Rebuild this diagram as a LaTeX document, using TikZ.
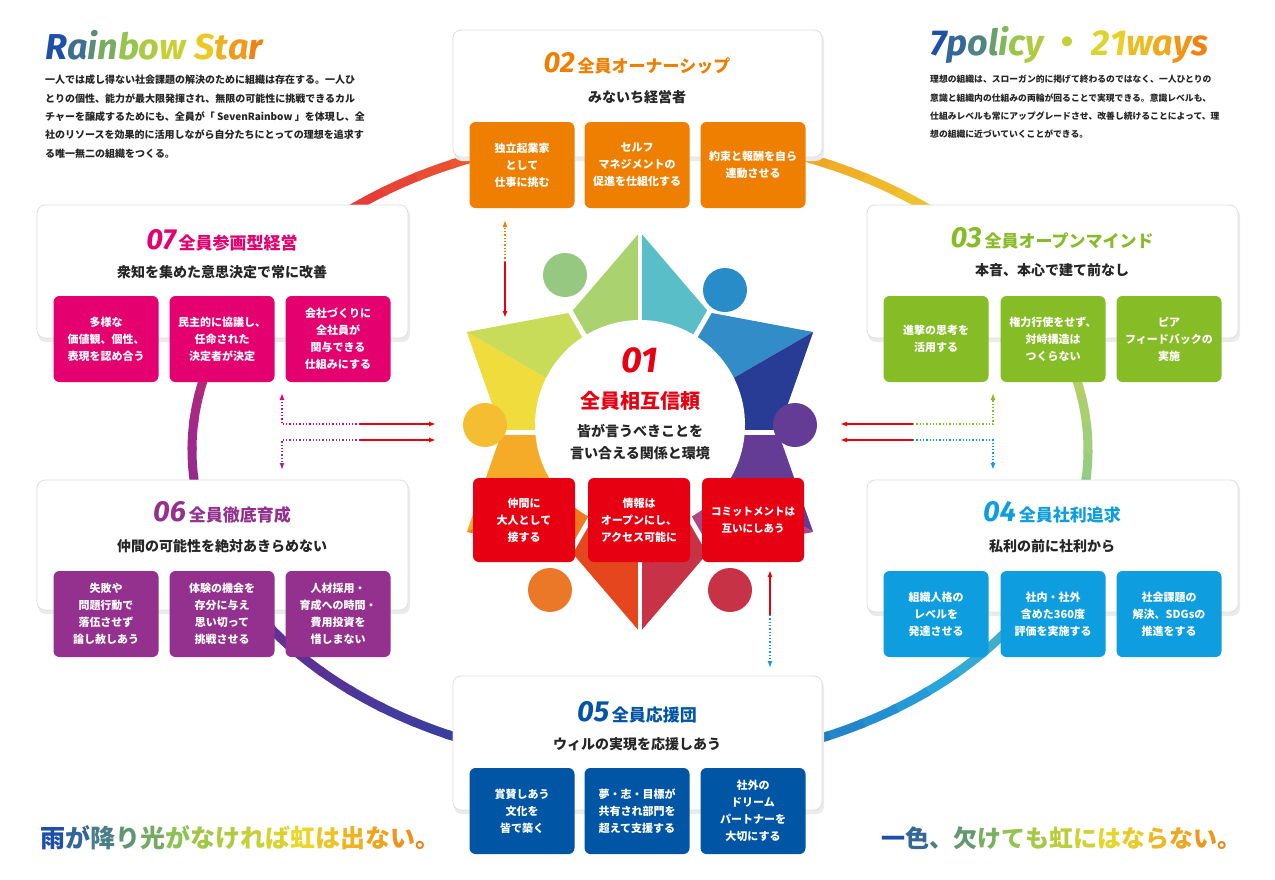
\documentclass[tikz,border=0pt]{standalone}
\usepackage{fontspec}
\usetikzlibrary{arrows.meta,calc}
\setmainfont{Noto Sans CJK JP}
\newfontfamily\jp{Noto Sans CJK JP}
\newfontfamily\numf{Fira Sans}
\definecolor{cOr}{RGB}{238,127,0}
\definecolor{cMa}{RGB}{228,0,111}
\definecolor{cGr}{RGB}{134,188,37}
\definecolor{cPu}{RGB}{148,48,141}
\definecolor{cLb}{RGB}{14,158,224}
\definecolor{cBl}{RGB}{0,85,165}
\definecolor{cRe}{RGB}{230,0,18}
\definecolor{rs0}{RGB}{150,205,130}
\definecolor{rs1}{RGB}{40,165,220}
\definecolor{rs2}{RGB}{25,75,170}
\definecolor{rs3}{RGB}{90,50,150}
\definecolor{rs4}{RGB}{160,40,140}
\definecolor{rs5}{RGB}{230,50,60}
\definecolor{rs6}{RGB}{240,130,30}
\definecolor{rs7}{RGB}{240,210,50}
\definecolor{rs8}{RGB}{150,205,130}
\definecolor{tb0}{RGB}{30,80,170}
\definecolor{tb1}{RGB}{140,195,80}
\definecolor{tb2}{RGB}{235,215,40}
\definecolor{tb3}{RGB}{240,130,20}
\newcommand\rbset[1]{\ifnum#1<34 \pgfmathtruncatemacro\rbp{100-#1*3}\colorlet{rbcur}{tb0!\rbp!tb1}\else\ifnum#1<67 \pgfmathtruncatemacro\rbp{100-(#1-33)*3}\colorlet{rbcur}{tb1!\rbp!tb2}\else\pgfmathtruncatemacro\rbp{max(0,100-(#1-66)*3)}\colorlet{rbcur}{tb2!\rbp!tb3}\fi\fi}
\newcommand\rbtext[2]{\foreach \ch [count=\i] in {#2}{\pgfmathtruncatemacro\rbt{100*(\i-1)/(#1-1)}\rbset{\rbt}\textcolor{rbcur}{\ch}}}
\tikzset{
  panel/.style={rounded corners=8pt,fill=white,draw=black!13,line width=0.8pt},
  pshadow/.style={rounded corners=8pt,fill=black!8},
  sbox/.style={rounded corners=6pt,text=white,font=\jp\bfseries\fontsize{11}{17}\selectfont,align=center,minimum width=105pt,minimum height=86pt,inner sep=0pt},
  ptitle/.style={font=\jp\bfseries\fontsize{17}{20}\selectfont},
  psub/.style={font=\jp\bfseries\fontsize{14}{16}\selectfont,text=black!85},
  desc/.style={font=\jp\bfseries\fontsize{10}{18.3}\selectfont,align=left,anchor=north west,inner sep=0pt,text=black!85},
  arr/.style={-{Latex[length=7pt,width=5pt]},line width=1.6pt},
  darr/.style={-{Latex[length=7pt,width=5pt]},line width=1.3pt,dotted},
  sln/.style={line width=1.6pt,cRe}
}
\newcommand\pnum[2]{{\numf\bfseries\itshape\fontsize{29}{29}\selectfont\textcolor{#1}{#2}}}
\begin{document}
\begin{tikzpicture}[x=1pt,y=-1pt]
\useasboundingbox (0,0) rectangle (1275,879);
\fill[white] (0,0) rectangle (1275,879);
% ring
\foreach \k in {0,...,71}{
  \pgfmathtruncatemacro\sidx{floor(\k/9)}
  \pgfmathtruncatemacro\snext{\sidx+1}
  \pgfmathtruncatemacro\pp{100-100*mod(\k,9)/9}
  \colorlet{segc}{rs\sidx!\pp!rs\snext}
  \draw[segc,line width=9pt] (640,450) ++(\k*5:448 and 315) arc[start angle=\k*5, delta angle=5.6, x radius=448, y radius=315];
}
% star
\coordinate (sc) at (640,432);
\foreach \th/\ca/\cb in {-90/{170,210,110}/{90,190,200},-30/{50,140,200}/{40,60,150},30/{100,60,150}/{170,70,130},90/{200,50,70}/{230,70,30},150/{240,120,30}/{245,170,40},210/{240,220,60}/{200,220,90}}{
  \definecolor{ha}{RGB}{\ca}\definecolor{hb}{RGB}{\cb}
  \pgfmathsetmacro\thm{\th-30}\pgfmathsetmacro\thp{\th+30}
  \fill[ha] (sc) -- ($(sc)+(\thm:138)$) -- ($(sc)+(\th:200)$) -- cycle;
  \fill[hb] (sc) -- ($(sc)+(\thp:138)$) -- ($(sc)+(\th:200)$) -- cycle;
}
\foreach \a in {-120,-60,0,60,120,180}{\draw[white,line width=5pt] (sc) -- ($(sc)+(\a:142)$);}
\draw[white,line width=4pt] (sc) -- ($(sc)+(-90:202)$);
\draw[white,line width=4pt] (sc) -- ($(sc)+(90:202)$);
\foreach \hx/\hy/\hc in {565/275/{150,200,130},725/290/{40,140,200},485/425/{245,190,50},795/425/{100,60,150},550/590/{235,120,40},730/590/{200,50,70}}{
  \definecolor{hh}{RGB}{\hc}\fill[hh] (\hx,\hy) circle (22);
}
\fill[white] (640,425) circle (105);
\node (n01) at (640,360) {{\numf\bfseries\itshape\fontsize{36}{36}\selectfont\textcolor{cRe}{01}}};
\node[font=\jp\bfseries\fontsize{20}{22}\selectfont,text=cRe] (t01) at (640,401) {全員相互信頼};
\node[font=\jp\bfseries\fontsize{14}{22}\selectfont,align=center,text=black!85] (s01) at (640,442) {皆が言うべきことを\\言い合える関係と環境};
\node[sbox,fill=cRe,minimum width=102pt,minimum height=84pt] (b011) at (524,520) {仲間に\\大人として\\接する};
\node[sbox,fill=cRe,minimum width=102pt,minimum height=84pt] (b012) at (639,520) {情報は\\オープンにし、\\アクセス可能に};
\node[sbox,fill=cRe,minimum width=102pt,minimum height=84pt,font=\jp\bfseries\fontsize{10.5}{17}\selectfont] (b013) at (753,520) {コミットメントは\\互いにしあう};
% panels
\foreach \x/\y/\X/\Y in {453/30/822/157,37/205/408/338,867/205/1238/338,37/480/408/610,867/480/1238/612,453/676/822/810}{
  \fill[pshadow] (\x+1,\y+3) rectangle (\X+2,\Y+4);
  \draw[panel] (\x,\y) rectangle (\X,\Y);
}
% 02
\node[ptitle] (t02) at (637,63) {\pnum{cOr}{02}\,\textcolor{cOr}{全員オーナーシップ}};
\node[psub] (s02) at (637,97) {みないち経営者};
\node[sbox,fill=cOr] (b021) at (522,165) {独立起業家\\として\\仕事に挑む};
\node[sbox,fill=cOr] (b022) at (637,165) {セルフ\\マネジメントの\\促進を仕組化する};
\node[sbox,fill=cOr] (b023) at (753,165) {約束と報酬を自ら\\連動させる};
% 07
\node[ptitle] (t07) at (222,240) {\pnum{cMa}{07}\,\textcolor{cMa}{全員参画型経営}};
\node[psub] (s07) at (222,272) {衆知を集めた意思決定で常に改善};
\node[sbox,fill=cMa] (b071) at (106,339) {多様な\\価値観、個性、\\表現を認め合う};
\node[sbox,fill=cMa] (b072) at (222,339) {民主的に協議し、\\任命された\\決定者が決定};
\node[sbox,fill=cMa] (b073) at (338,339) {会社づくりに\\全社員が\\関与できる\\仕組みにする};
% 03
\node[ptitle] (t03) at (1052,238) {\pnum{cGr}{03}\,\textcolor{cGr}{全員オープンマインド}};
\node[psub] (s03) at (1052,270) {本音、本心で建て前なし};
\node[sbox,fill=cGr] (b031) at (936,339) {進撃の思考を\\活用する};
\node[sbox,fill=cGr] (b032) at (1053,339) {権力行使をせず、\\対峙構造は\\つくらない};
\node[sbox,fill=cGr] (b033) at (1169,339) {ピア\\フィードバックの\\実施};
% 06
\node[ptitle] (t06) at (222,512) {\pnum{cPu}{06}\,\textcolor{cPu}{全員徹底育成}};
\node[psub] (s06) at (222,546) {仲間の可能性を絶対あきらめない};
\node[sbox,fill=cPu] (b061) at (106,614) {失敗や\\問題行動で\\落伍させず\\論し赦しあう};
\node[sbox,fill=cPu] (b062) at (222,614) {体験の機会を\\存分に与え\\思い切って\\挑戦させる};
\node[sbox,fill=cPu] (b063) at (338,614) {人材採用・\\育成への時間・\\費用投資を\\惜しまない};
% 04
\node[ptitle] (t04) at (1052,512) {\pnum{cLb}{04}\,\textcolor{cLb}{全員社利追求}};
\node[psub] (s04) at (1052,546) {私利の前に社利から};
\node[sbox,fill=cLb] (b041) at (936,614) {組織人格の\\レベルを\\発達させる};
\node[sbox,fill=cLb] (b042) at (1053,614) {社内・社外\\含めた360度\\評価を実施する};
\node[sbox,fill=cLb] (b043) at (1169,614) {社会課題の\\解決、SDGsの\\推進をする};
% 05
\node[ptitle] (t05) at (637,712) {\pnum{cBl}{05}\,\textcolor{cBl}{全員応援団}};
\node[psub] (s05) at (637,744) {ウィルの実現を応援しあう};
\node[sbox,fill=cBl] (b051) at (522,811) {賞賛しあう\\文化を\\皆で築く};
\node[sbox,fill=cBl] (b052) at (637,811) {夢・志・目標が\\共有され部門を\\超えて支援する};
\node[sbox,fill=cBl] (b053) at (753,811) {社外の\\ドリーム\\パートナーを\\大切にする};
% arrows vertical
\coordinate (v1a) at (505,220); \coordinate (v1m) at (505,262); \coordinate (v1b) at (505,318);
\draw[darr,cOr] (v1m) -- (v1a);
\draw[arr,cRe] (v1m) -- (v1b);
\coordinate (v2a) at (770,570); \coordinate (v2m) at (770,615); \coordinate (v2b) at (770,668);
\draw[arr,cRe] (v2m) -- (v2a);
\draw[darr,cLb] (v2m) -- (v2b);
% left arrows
\coordinate (la1) at (282,424); \coordinate (lm1) at (360,424); \coordinate (le1) at (436,424); \coordinate (lu) at (282,393);
\coordinate (la2) at (282,440); \coordinate (lm2) at (360,440); \coordinate (le2) at (436,440); \coordinate (ld) at (282,470);
\draw[darr,cMa] (lm1) -- (la1) -- (lu);
\draw[arr,cRe] (lm1) -- (le1);
\draw[darr,cPu] (lm2) -- (la2) -- (ld);
\draw[arr,cRe] (lm2) -- (le2);
% right arrows
\coordinate (ra1) at (993,424); \coordinate (rm1) at (913,424); \coordinate (re1) at (840,424); \coordinate (ru) at (993,393);
\coordinate (ra2) at (993,440); \coordinate (rm2) at (913,440); \coordinate (re2) at (840,440); \coordinate (rd) at (993,470);
\draw[darr,cGr] (rm1) -- (ra1) -- (ru);
\draw[arr,cRe] (rm1) -- (re1);
\draw[darr,cLb] (rm2) -- (ra2) -- (rd);
\draw[arr,cRe] (rm2) -- (re2);
% headings
\node[anchor=west,inner sep=0pt,font=\numf\bfseries\itshape\fontsize{36}{36}\selectfont] (hl) at (45,45) {\rbtext{12}{R,a,i,n,b,o,w,~,S,t,a,r}};
\node[anchor=west,inner sep=0pt,font=\numf\bfseries\itshape\fontsize{36}{36}\selectfont] (hr) at (930,45) {\rbtext{14}{7,p,o,l,i,c,y,{\jp\,・\,},2,1,w,a,y,s}};
\node[desc] (dl) at (45,75) {一人では成し得ない社会課題の解決のために組織は存在する。一人ひ\\とりの個性、能力が最大限発揮され、無限の可能性に挑戦できるカル\\チャーを醸成するためにも、全員が「 SevenRainbow 」を体現し、全\\社のリソースを効果的に活用しながら自分たちにとっての理想を追求す\\る唯一無二の組織をつくる。};
\node[desc,font=\jp\bfseries\fontsize{8.8}{18.3}\selectfont] (dr) at (930,75) {理想の組織は、スローガン的に掲げて終わるのではなく、一人ひとりの\\意識と組織内の仕組みの両輪が回ることで実現できる。意識レベルも、\\仕組みレベルも常にアップグレードさせ、改善し続けることによって、理\\想の組織に近づいていくことができる。};
\node[anchor=west,inner sep=0pt,font=\jp\bfseries\fontsize{25}{26}\selectfont] (bl) at (40,838) {\rbtext{16}{雨,が,降,り,光,が,な,け,れ,ば,虹,は,出,な,い,。}};
\node[anchor=east,inner sep=0pt,font=\jp\bfseries\fontsize{24}{26}\selectfont] (br) at (1242,838) {\rbtext{15}{一,色,、,欠,け,て,も,虹,に,は,な,ら,な,い,。}};
\end{tikzpicture}
\end{document}
